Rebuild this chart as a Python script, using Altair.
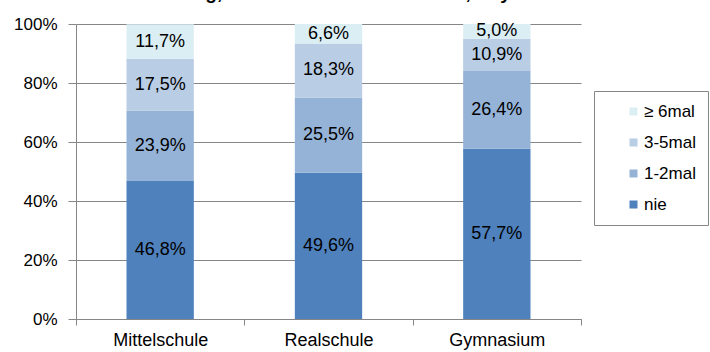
import altair as alt
import pandas as pd

schools = ["Mittelschule", "Realschule", "Gymnasium"]
levels = ["nie", "1-2mal", "3-5mal", "≥ 6mal"]          # bottom to top
nie = [46.8, 49.6, 57.7]
einmal_zweimal = [23.9, 25.5, 26.4]
drei_fuenfmal = [17.5, 18.3, 10.9]
sechsmal_plus = [11.7, 6.6, 5.0]

legend_order = ["≥ 6mal", "3-5mal", "1-2mal", "nie"]
palette = ["#DBEEF4", "#B9CDE5", "#95B3D7", "#4F81BD"]

series = [nie, einmal_zweimal, drei_fuenfmal, sechsmal_plus]
rows = []
for k, (lvl, vals) in enumerate(zip(levels, series)):
    for s, v in zip(schools, vals):
        rows.append({"Schulart": s, "Häufigkeit": lvl, "Anteil": v, "rang": k,
                     "label": f"{v:.1f}".replace(".", ",") + "%"})
df = pd.DataFrame(rows)

FONT = "Liberation Sans"
GRID = "#868686"

# full-width bands so the axis ticks fall between the categories
x_enc = alt.X("Schulart:N", sort=schools,
              scale=alt.Scale(paddingInner=0, paddingOuter=0),
              axis=alt.Axis(title=None, labelFontSize=18, labelColor="#000000",
                            labelFont=FONT, labelAngle=0, ticks=True, tickBand="extent",
                            tickSize=6, tickColor=GRID, grid=False,
                            domainColor=GRID, labelPadding=6))

base = alt.Chart(df)

bars = base.mark_bar(width=alt.RelativeBandSize(0.4)).encode(
    x=x_enc,
    y=alt.Y("sum(Anteil):Q", stack="zero",
            scale=alt.Scale(domain=[0, 100], nice=False),
            axis=alt.Axis(title=None, values=[0, 20, 40, 60, 80, 100],
                          labelExpr="datum.value + '%'", labelFontSize=17,
                          labelFont=FONT, labelColor="#000000", grid=True,
                          gridColor=GRID, domainColor=GRID, tickColor=GRID,
                          tickSize=8, labelPadding=11)),
    color=alt.Color("Häufigkeit:N",
                    scale=alt.Scale(domain=legend_order, range=palette),
                    legend=alt.Legend(title=None, orient="none", legendX=518, legendY=67,
                                      fillColor="white", strokeColor=GRID,
                                      padding=12, symbolOffset=19, symbolType="square",
                                      symbolSize=64, symbolStrokeWidth=0,
                                      labelFontSize=17, labelFont=FONT,
                                      labelColor="#000000", labelOffset=2,
                                      rowPadding=13)),
    order=alt.Order("rang:Q", sort="ascending"),
)

labels = base.transform_stack(
    stack="Anteil", groupby=["Schulart"],
    sort=[alt.SortField("rang", "ascending")], as_=["v0", "v1"]
).transform_calculate(
    mitte="(datum.v0 + datum.v1) / 2"
).mark_text(fontSize=18, font=FONT, color="#000000", baseline="middle").encode(
    x=alt.X("Schulart:N", sort=schools),
    y=alt.Y("mitte:Q"),
    text="label:N",
)

title = alt.Chart(pd.DataFrame({"t": ["Nutzung, Anteile nach Schulart in %, Bayern"]})).mark_text(
    fontSize=19, font=FONT, fontWeight="bold", color="#000000", align="left",
    baseline="alphabetic"
).encode(x=alt.value(65), y=alt.value(-25), text="t:N")

chart = alt.layer(bars, labels, title).properties(
    width=505, height=295,
    autosize=alt.AutoSizeParams(type="none"),
    padding={"left": 76, "top": 24, "right": 129, "bottom": 33},
).configure_view(stroke=None)

chart.save("out.html", embed_options={"renderer": "svg", "actions": False})
